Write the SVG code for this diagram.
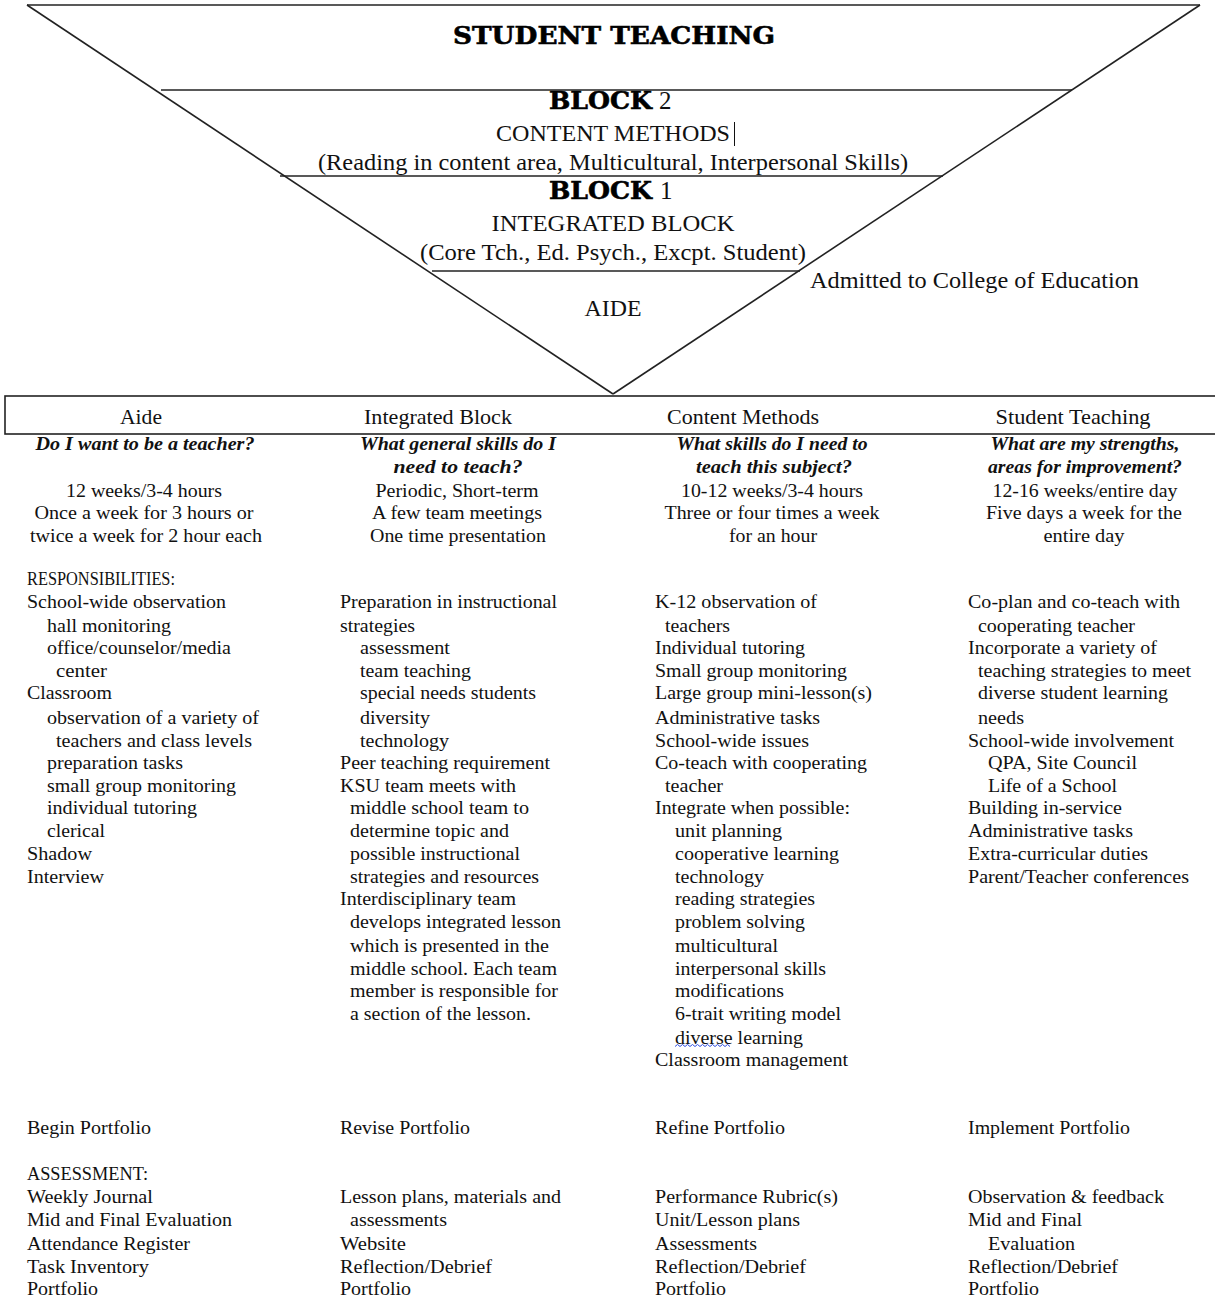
<svg xmlns="http://www.w3.org/2000/svg" width="1215" height="1299" viewBox="0 0 1215 1299">
<style>
.ln{stroke:#222;stroke-width:1.6;fill:none}
.t{font-family:"Liberation Serif",serif;font-size:18px;fill:#111}
.c{text-anchor:middle}
.hd{font-family:"Liberation Serif",serif;font-size:21px;fill:#111;text-anchor:middle}
.q{font-family:"Liberation Serif",serif;font-size:18px;font-style:italic;font-weight:bold;fill:#111;text-anchor:middle}
.heavy{font-family:"DejaVu Serif",serif;font-weight:bold;fill:#000;stroke:#000;stroke-width:0.6}
.top{font-family:"Liberation Serif",serif;font-size:23px;fill:#111;text-anchor:middle}
.num{font-family:"Liberation Serif",serif;font-size:25px;fill:#111}
</style>
<rect x="0" y="0" width="1215" height="1299" fill="#fff"/>
<g id="connectors">
<line class="ln" x1="27" y1="5" x2="1200" y2="5" stroke-width="2.4"/>
<line class="ln" x1="27" y1="5" x2="613" y2="394"/>
<line class="ln" x1="1200" y1="5" x2="613" y2="394"/>
<line class="ln" x1="161" y1="90" x2="1072" y2="90"/>
<line class="ln" x1="280" y1="176" x2="943" y2="176"/>
<line class="ln" x1="432" y1="271" x2="800" y2="271"/>
</g>
<g id="student-teaching-level">
<text class="heavy" x="614" y="44" font-size="24" text-anchor="middle" textLength="322" lengthAdjust="spacingAndGlyphs">STUDENT TEACHING</text>
</g>
<g id="block2-level">
<text class="heavy" x="549" y="109" font-size="25" textLength="103" lengthAdjust="spacingAndGlyphs">BLOCK</text>
<text class="num" x="659" y="109">2</text>
<text class="top" x="613" y="141" textLength="234" lengthAdjust="spacingAndGlyphs">CONTENT METHODS</text>
<line x1="734.5" y1="122" x2="734.5" y2="146" stroke="#111" stroke-width="1"/>
<text class="top" x="613" y="170" textLength="590" lengthAdjust="spacingAndGlyphs">(Reading in content area, Multicultural, Interpersonal Skills)</text>
</g>
<g id="block1-level">
<text class="heavy" x="549" y="199" font-size="25" textLength="103" lengthAdjust="spacingAndGlyphs">BLOCK</text>
<text class="num" x="660" y="199">1</text>
<text class="top" x="613" y="231" textLength="243" lengthAdjust="spacingAndGlyphs">INTEGRATED BLOCK</text>
<text class="top" x="613" y="260" textLength="386" lengthAdjust="spacingAndGlyphs">(Core Tch., Ed. Psych., Excpt. Student)</text>
</g>
<g id="admitted-label">
<text class="top" x="810" y="288" style="text-anchor:start" textLength="329" lengthAdjust="spacingAndGlyphs">Admitted to College of Education</text>
</g>
<g id="aide-level">
<text class="top" x="613" y="316" textLength="57" lengthAdjust="spacingAndGlyphs">AIDE</text>
</g>
<g id="header-box">
<rect x="5" y="396" width="1215" height="38" fill="none" stroke="#222" stroke-width="1.6"/>
<text class="hd" x="141" y="424" textLength="42" lengthAdjust="spacingAndGlyphs">Aide</text>
<text class="hd" x="438" y="424" textLength="148" lengthAdjust="spacingAndGlyphs">Integrated Block</text>
<text class="hd" x="743" y="424" textLength="152" lengthAdjust="spacingAndGlyphs">Content Methods</text>
<text class="hd" x="1073" y="424" textLength="155" lengthAdjust="spacingAndGlyphs">Student Teaching</text>
</g>
<g id="col-aide">
<text class="q" x="145" y="450" textLength="219" lengthAdjust="spacingAndGlyphs">Do I want to be a teacher?</text>
<text class="t c" x="144" y="497" textLength="156" lengthAdjust="spacingAndGlyphs">12 weeks/3-4 hours</text>
<text class="t c" x="144" y="519" textLength="219" lengthAdjust="spacingAndGlyphs">Once a week for 3 hours or</text>
<text class="t c" x="146" y="542" textLength="232" lengthAdjust="spacingAndGlyphs">twice a week for 2 hour each</text>
<text class="t" x="27" y="585" textLength="148" lengthAdjust="spacingAndGlyphs">RESPONSIBILITIES:</text>
<text class="t" x="27" y="608" textLength="199" lengthAdjust="spacingAndGlyphs">School-wide observation</text>
<text class="t" x="47" y="632" textLength="124" lengthAdjust="spacingAndGlyphs">hall monitoring</text>
<text class="t" x="47" y="654" textLength="184" lengthAdjust="spacingAndGlyphs">office/counselor/media</text>
<text class="t" x="56" y="677" textLength="51" lengthAdjust="spacingAndGlyphs">center</text>
<text class="t" x="27" y="699" textLength="85" lengthAdjust="spacingAndGlyphs">Classroom</text>
<text class="t" x="47" y="724" textLength="212" lengthAdjust="spacingAndGlyphs">observation of a variety of</text>
<text class="t" x="56" y="747" textLength="196" lengthAdjust="spacingAndGlyphs">teachers and class levels</text>
<text class="t" x="47" y="769" textLength="136" lengthAdjust="spacingAndGlyphs">preparation tasks</text>
<text class="t" x="47" y="792" textLength="189" lengthAdjust="spacingAndGlyphs">small group monitoring</text>
<text class="t" x="47" y="814" textLength="150" lengthAdjust="spacingAndGlyphs">individual tutoring</text>
<text class="t" x="47" y="837" textLength="58" lengthAdjust="spacingAndGlyphs">clerical</text>
<text class="t" x="27" y="860" textLength="65" lengthAdjust="spacingAndGlyphs">Shadow</text>
<text class="t" x="27" y="883" textLength="77" lengthAdjust="spacingAndGlyphs">Interview</text>
<text class="t" x="27" y="1134" textLength="124" lengthAdjust="spacingAndGlyphs">Begin Portfolio</text>
<text class="t" x="27" y="1180" textLength="121" lengthAdjust="spacingAndGlyphs">ASSESSMENT:</text>
<text class="t" x="27" y="1203" textLength="126" lengthAdjust="spacingAndGlyphs">Weekly Journal</text>
<text class="t" x="27" y="1226" textLength="205" lengthAdjust="spacingAndGlyphs">Mid and Final Evaluation</text>
<text class="t" x="27" y="1250" textLength="163" lengthAdjust="spacingAndGlyphs">Attendance Register</text>
<text class="t" x="27" y="1273" textLength="122" lengthAdjust="spacingAndGlyphs">Task Inventory</text>
<text class="t" x="27" y="1295" textLength="71" lengthAdjust="spacingAndGlyphs">Portfolio</text>
</g>
<g id="col-integrated">
<text class="q" x="458" y="450" textLength="196" lengthAdjust="spacingAndGlyphs">What general skills do I</text>
<text class="q" x="458" y="473" textLength="129" lengthAdjust="spacingAndGlyphs">need to teach?</text>
<text class="t c" x="457" y="497" textLength="163" lengthAdjust="spacingAndGlyphs">Periodic, Short-term</text>
<text class="t c" x="457" y="519" textLength="170" lengthAdjust="spacingAndGlyphs">A few team meetings</text>
<text class="t c" x="458" y="542" textLength="176" lengthAdjust="spacingAndGlyphs">One time presentation</text>
<text class="t" x="340" y="608" textLength="217" lengthAdjust="spacingAndGlyphs">Preparation in instructional</text>
<text class="t" x="340" y="632" textLength="75" lengthAdjust="spacingAndGlyphs">strategies</text>
<text class="t" x="360" y="654" textLength="90" lengthAdjust="spacingAndGlyphs">assessment</text>
<text class="t" x="360" y="677" textLength="111" lengthAdjust="spacingAndGlyphs">team teaching</text>
<text class="t" x="360" y="699" textLength="176" lengthAdjust="spacingAndGlyphs">special needs students</text>
<text class="t" x="360" y="724" textLength="70" lengthAdjust="spacingAndGlyphs">diversity</text>
<text class="t" x="360" y="747" textLength="89" lengthAdjust="spacingAndGlyphs">technology</text>
<text class="t" x="340" y="769" textLength="210" lengthAdjust="spacingAndGlyphs">Peer teaching requirement</text>
<text class="t" x="340" y="792" textLength="176" lengthAdjust="spacingAndGlyphs">KSU team meets with</text>
<text class="t" x="350" y="814" textLength="179" lengthAdjust="spacingAndGlyphs">middle school team to</text>
<text class="t" x="350" y="837" textLength="159" lengthAdjust="spacingAndGlyphs">determine topic and</text>
<text class="t" x="350" y="860" textLength="170" lengthAdjust="spacingAndGlyphs">possible instructional</text>
<text class="t" x="350" y="883" textLength="189" lengthAdjust="spacingAndGlyphs">strategies and resources</text>
<text class="t" x="340" y="905" textLength="176" lengthAdjust="spacingAndGlyphs">Interdisciplinary team</text>
<text class="t" x="350" y="928" textLength="211" lengthAdjust="spacingAndGlyphs">develops integrated lesson</text>
<text class="t" x="350" y="952" textLength="199" lengthAdjust="spacingAndGlyphs">which is presented in the</text>
<text class="t" x="350" y="975" textLength="207" lengthAdjust="spacingAndGlyphs">middle school. Each team</text>
<text class="t" x="350" y="997" textLength="208" lengthAdjust="spacingAndGlyphs">member is responsible for</text>
<text class="t" x="350" y="1020" textLength="181" lengthAdjust="spacingAndGlyphs">a section of the lesson.</text>
<text class="t" x="340" y="1134" textLength="130" lengthAdjust="spacingAndGlyphs">Revise Portfolio</text>
<text class="t" x="340" y="1203" textLength="221" lengthAdjust="spacingAndGlyphs">Lesson plans, materials and</text>
<text class="t" x="350" y="1226" textLength="97" lengthAdjust="spacingAndGlyphs">assessments</text>
<text class="t" x="340" y="1250" textLength="66" lengthAdjust="spacingAndGlyphs">Website</text>
<text class="t" x="340" y="1273" textLength="152" lengthAdjust="spacingAndGlyphs">Reflection/Debrief</text>
<text class="t" x="340" y="1295" textLength="71" lengthAdjust="spacingAndGlyphs">Portfolio</text>
</g>
<g id="col-content">
<text class="q" x="772" y="450" textLength="191" lengthAdjust="spacingAndGlyphs">What skills do I need to</text>
<text class="q" x="774" y="473" textLength="156" lengthAdjust="spacingAndGlyphs">teach this subject?</text>
<text class="t c" x="772" y="497" textLength="182" lengthAdjust="spacingAndGlyphs">10-12 weeks/3-4 hours</text>
<text class="t c" x="772" y="519" textLength="215" lengthAdjust="spacingAndGlyphs">Three or four times a week</text>
<text class="t c" x="773" y="542" textLength="88" lengthAdjust="spacingAndGlyphs">for an hour</text>
<text class="t" x="655" y="608" textLength="162" lengthAdjust="spacingAndGlyphs">K-12 observation of</text>
<text class="t" x="665" y="632" textLength="65" lengthAdjust="spacingAndGlyphs">teachers</text>
<text class="t" x="655" y="654" textLength="150" lengthAdjust="spacingAndGlyphs">Individual tutoring</text>
<text class="t" x="655" y="677" textLength="192" lengthAdjust="spacingAndGlyphs">Small group monitoring</text>
<text class="t" x="655" y="699" textLength="217" lengthAdjust="spacingAndGlyphs">Large group mini-lesson(s)</text>
<text class="t" x="655" y="724" textLength="165" lengthAdjust="spacingAndGlyphs">Administrative tasks</text>
<text class="t" x="655" y="747" textLength="154" lengthAdjust="spacingAndGlyphs">School-wide issues</text>
<text class="t" x="655" y="769" textLength="212" lengthAdjust="spacingAndGlyphs">Co-teach with cooperating</text>
<text class="t" x="665" y="792" textLength="58" lengthAdjust="spacingAndGlyphs">teacher</text>
<text class="t" x="655" y="814" textLength="195" lengthAdjust="spacingAndGlyphs">Integrate when possible:</text>
<text class="t" x="675" y="837" textLength="107" lengthAdjust="spacingAndGlyphs">unit planning</text>
<text class="t" x="675" y="860" textLength="164" lengthAdjust="spacingAndGlyphs">cooperative learning</text>
<text class="t" x="675" y="883" textLength="89" lengthAdjust="spacingAndGlyphs">technology</text>
<text class="t" x="675" y="905" textLength="140" lengthAdjust="spacingAndGlyphs">reading strategies</text>
<text class="t" x="675" y="928" textLength="130" lengthAdjust="spacingAndGlyphs">problem solving</text>
<text class="t" x="675" y="952" textLength="103" lengthAdjust="spacingAndGlyphs">multicultural</text>
<text class="t" x="675" y="975" textLength="151" lengthAdjust="spacingAndGlyphs">interpersonal skills</text>
<text class="t" x="675" y="997" textLength="109" lengthAdjust="spacingAndGlyphs">modifications</text>
<text class="t" x="675" y="1020" textLength="166" lengthAdjust="spacingAndGlyphs">6-trait writing model</text>
<text class="t" x="675" y="1044" textLength="128" lengthAdjust="spacingAndGlyphs">diverse learning</text>
<path d="M675 1046.5 l2.5 -2 l2.5 2 l2.5 -2 l2.5 2 l2.5 -2 l2.5 2 l2.5 -2 l2.5 2 l2.5 -2 l2.5 2 l2.5 -2 l2.5 2 l2.5 -2 l2.5 2 l2.5 -2 l2.5 2 l2.5 -2 l2.5 2 l2.5 -2 l2.5 2 l2.5 -2 l2.5 2" fill="none" stroke="#3050e0" stroke-width="1"/>
<text class="t" x="655" y="1066" textLength="193" lengthAdjust="spacingAndGlyphs">Classroom management</text>
<text class="t" x="655" y="1134" textLength="130" lengthAdjust="spacingAndGlyphs">Refine Portfolio</text>
<text class="t" x="655" y="1203" textLength="183" lengthAdjust="spacingAndGlyphs">Performance Rubric(s)</text>
<text class="t" x="655" y="1226" textLength="145" lengthAdjust="spacingAndGlyphs">Unit/Lesson plans</text>
<text class="t" x="655" y="1250" textLength="102" lengthAdjust="spacingAndGlyphs">Assessments</text>
<text class="t" x="655" y="1273" textLength="151" lengthAdjust="spacingAndGlyphs">Reflection/Debrief</text>
<text class="t" x="655" y="1295" textLength="71" lengthAdjust="spacingAndGlyphs">Portfolio</text>
</g>
<g id="col-student-teaching">
<text class="q" x="1085" y="450" textLength="189" lengthAdjust="spacingAndGlyphs">What are my strengths,</text>
<text class="q" x="1085" y="473" textLength="194" lengthAdjust="spacingAndGlyphs">areas for improvement?</text>
<text class="t c" x="1085" y="497" textLength="185" lengthAdjust="spacingAndGlyphs">12-16 weeks/entire day</text>
<text class="t c" x="1084" y="519" textLength="196" lengthAdjust="spacingAndGlyphs">Five days a week for the</text>
<text class="t c" x="1084" y="542" textLength="81" lengthAdjust="spacingAndGlyphs">entire day</text>
<text class="t" x="968" y="608" textLength="212" lengthAdjust="spacingAndGlyphs">Co-plan and co-teach with</text>
<text class="t" x="978" y="632" textLength="157" lengthAdjust="spacingAndGlyphs">cooperating teacher</text>
<text class="t" x="968" y="654" textLength="189" lengthAdjust="spacingAndGlyphs">Incorporate a variety of</text>
<text class="t" x="978" y="677" textLength="213" lengthAdjust="spacingAndGlyphs">teaching strategies to meet</text>
<text class="t" x="978" y="699" textLength="190" lengthAdjust="spacingAndGlyphs">diverse student learning</text>
<text class="t" x="978" y="724" textLength="46" lengthAdjust="spacingAndGlyphs">needs</text>
<text class="t" x="968" y="747" textLength="206" lengthAdjust="spacingAndGlyphs">School-wide involvement</text>
<text class="t" x="988" y="769" textLength="149" lengthAdjust="spacingAndGlyphs">QPA, Site Council</text>
<text class="t" x="988" y="792" textLength="129" lengthAdjust="spacingAndGlyphs">Life of a School</text>
<text class="t" x="968" y="814" textLength="154" lengthAdjust="spacingAndGlyphs">Building in-service</text>
<text class="t" x="968" y="837" textLength="165" lengthAdjust="spacingAndGlyphs">Administrative tasks</text>
<text class="t" x="968" y="860" textLength="180" lengthAdjust="spacingAndGlyphs">Extra-curricular duties</text>
<text class="t" x="968" y="883" textLength="221" lengthAdjust="spacingAndGlyphs">Parent/Teacher conferences</text>
<text class="t" x="968" y="1134" textLength="162" lengthAdjust="spacingAndGlyphs">Implement Portfolio</text>
<text class="t" x="968" y="1203" textLength="196" lengthAdjust="spacingAndGlyphs">Observation &amp; feedback</text>
<text class="t" x="968" y="1226" textLength="114" lengthAdjust="spacingAndGlyphs">Mid and Final</text>
<text class="t" x="988" y="1250" textLength="87" lengthAdjust="spacingAndGlyphs">Evaluation</text>
<text class="t" x="968" y="1273" textLength="150" lengthAdjust="spacingAndGlyphs">Reflection/Debrief</text>
<text class="t" x="968" y="1295" textLength="71" lengthAdjust="spacingAndGlyphs">Portfolio</text>
</g>
</svg>
